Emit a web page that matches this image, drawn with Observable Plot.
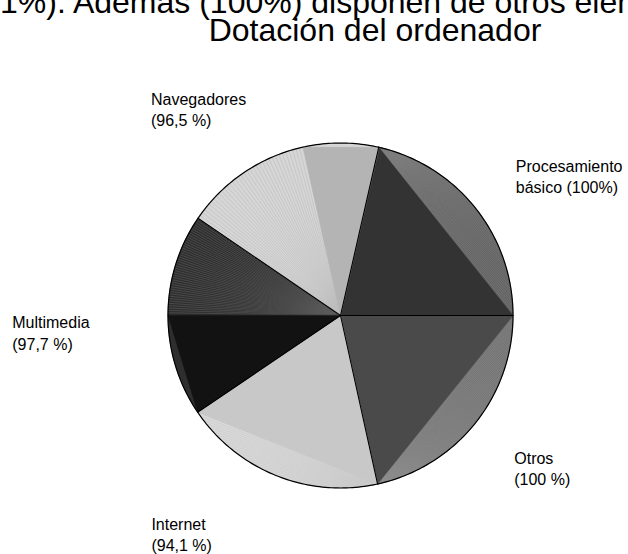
<!DOCTYPE html>
<html>
<head>
<meta charset="utf-8">
<script src="https://cdn.jsdelivr.net/npm/d3@7"></script>
<script src="https://cdn.jsdelivr.net/npm/@observablehq/plot@0.6"></script>
<style>
  html, body { margin: 0; padding: 0; background: #fff; }
  #wrap { position: relative; width: 628px; height: 554px; overflow: hidden; background: #fff; font-family: "Liberation Sans", Arial, sans-serif; }
  .big { position: absolute; font-size: 32px; line-height: 32px; white-space: nowrap; color: #000; }
  #chart { position: absolute; left: 0; top: 0; }
</style>
</head>
<body>
<div id="wrap">
  <div id="chart"></div>
  <div class="big" id="toptext" style="left:0px; top:-14px;">1%). Además (100%) disponen de otros elementos</div>
  <div class="big" id="title" style="left:0; width:750px; text-align:center; top:14px;">Dotación del ordenador</div>
</div>
<script>
// ---- data ----
const categories = ["Procesamiento básico", "Otros", "Internet", "Multimedia", "Navegadores"];
const percentages = [100, 100, 94.1, 97.7, 96.5];
const labelTexts = ["Procesamiento\nbásico (100%)", "Otros\n(100 %)", "Internet\n(94,1 %)", "Multimedia\n(97,7 %)", "Navegadores\n(96,5 %)"];
// share of the circle taken by each slice (%)
const sliceShares = [21.45, 21.55, 18.97, 19.0, 19.03];

// ---- style / layout ----
const W = 628, H = 554;
const cx = 340, cy = 315, R = 172.5;
const startDeg = 12.8;
const sliceStyle = [
  {solid: "#333333", hatch: "#636363", stripe: "#7e7e7e", fan: "start",  solid0: 0,    solid1: 1,   hatch0: 0,   hatch1: 1,   step: 1.1},
  {solid: "#4a4a4a", hatch: "#747474", stripe: "#8c8c8c", fan: "end",    solid0: 0,    solid1: 1,   hatch0: 0,   hatch1: 1,   step: 1.1},
  {solid: "#c8c8c8", hatch: "#d9d9d9", stripe: "#c9c9c9", fan: "start",  solid0: 0,    solid1: 1,   hatch0: 0,   hatch1: 1,   step: 1.6},
  {solid: "#121212", hatch: "#2e2e2e", stripe: "#5c5c5c", fan: "center", solid0: 0,    solid1: 0.5, hatch0: 0.5, hatch1: 1,   step: 0.8},
  {solid: "#b4b4b4", hatch: "#d6d6d6", stripe: "#bcbcbc", fan: "center", solid0: 0.63, solid1: 1,   hatch0: 0,   hatch1: 0.63, step: 1.2}
];
const labelRadius = 1.3;
const labelNudge = [[0, 0], [-1, 11.5], [-106, 9.7], [-104, 17], [-107.5, 2]];

// ---- geometry ----
const TAU = Math.PI * 2;
const a0deg = startDeg * Math.PI / 180;
const arcs = d3.pie().sort(null).startAngle(a0deg).endAngle(a0deg + TAU)(sliceShares);
const P = (a, r = R) => ({x: cx + r * Math.sin(a), y: cy - r * Math.cos(a)});
const C = {x: cx, y: cy};
const arcPts = (a, b, n) => d3.range(n + 1).map(k => P(a + (b - a) * k / n));

const marks = [];
// sector fills (hatch base colour)
arcs.forEach((d, i) => {
  const s = sliceStyle[i];
  marks.push(Plot.line([C, ...arcPts(d.startAngle, d.endAngle, 90)], {x: "x", y: "y", fill: s.hatch, stroke: s.hatch, strokeWidth: 0.5, curve: "linear-closed"}));
});
// stripes
arcs.forEach((d, i) => {
  const s = sliceStyle[i];
  const span = d.endAngle - d.startAngle;
  const h0 = d.startAngle + span * s.hatch0, h1 = d.startAngle + span * s.hatch1;
  const n = Math.max(2, Math.round((h1 - h0) * 180 / Math.PI / s.step));
  const origin = s.fan === "start" ? P(d.startAngle) : s.fan === "end" ? P(d.endAngle) : C;
  const segs = [];
  d3.range(n + 1).forEach(k => {
    const p = P(h0 + (h1 - h0) * k / n);
    segs.push({id: k, x: origin.x, y: origin.y}, {id: k, x: p.x, y: p.y});
  });
  marks.push(Plot.line(segs, {x: "x", y: "y", z: "id", stroke: s.stripe, strokeWidth: 0.6}));
});
// solid triangles
arcs.forEach((d, i) => {
  const s = sliceStyle[i];
  const span = d.endAngle - d.startAngle;
  const t0 = d.startAngle + span * s.solid0, t1 = d.startAngle + span * s.solid1;
  marks.push(Plot.line([C, P(t0), P(t1)], {x: "x", y: "y", fill: s.solid, stroke: s.solid, strokeWidth: 0.5, curve: "linear-closed"}));
});
// radial boundaries
const radials = [];
arcs.forEach((d, i) => {
  const p = P(d.startAngle);
  radials.push({id: i, x: cx, y: cy}, {id: i, x: p.x, y: p.y});
});
marks.push(Plot.line(radials, {x: "x", y: "y", z: "id", stroke: "#000", strokeWidth: 1.1}));
// outline
marks.push(Plot.line(arcPts(0, TAU, 360), {x: "x", y: "y", stroke: "#000", strokeWidth: 1.2, curve: "linear-closed"}));
// labels
const labelData = arcs.map((d, i) => {
  const m = (d.startAngle + d.endAngle) / 2;
  const p = P(m, R * labelRadius);
  return {x: p.x + labelNudge[i][0], y: p.y + labelNudge[i][1], text: labelTexts[i], name: categories[i], value: percentages[i]};
});
marks.push(Plot.text(labelData, {x: "x", y: "y", text: "text", textAnchor: "start", lineAnchor: "middle", lineHeight: 1.35, fontSize: 16, fontFamily: "Liberation Sans, Arial, sans-serif", fill: "#000"}));

const chart = Plot.plot({
  width: W,
  height: H,
  margin: 0,
  x: {domain: [0, W], range: [0, W], axis: null},
  y: {domain: [0, H], range: [0, H], axis: null},
  style: {background: "transparent", overflow: "visible"},
  marks
});
document.getElementById("chart").appendChild(chart);
</script>
</body>
</html>
